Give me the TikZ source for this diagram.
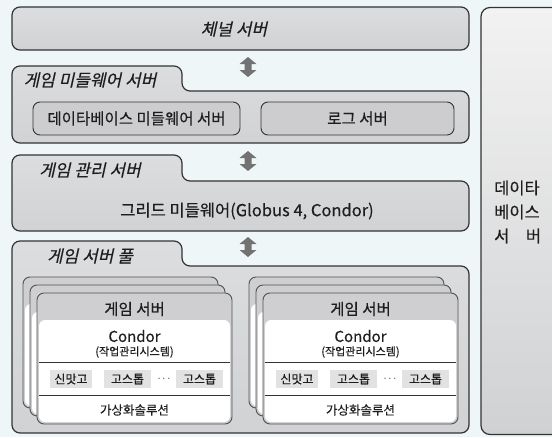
\documentclass[tikz,border=0pt]{standalone}
\usepackage{fontspec}
\setmainfont{Noto Sans CJK KR}[FakeBold=0.35]
\newfontfamily\krit[FakeSlant=0.22,FakeBold=0.35]{Noto Sans CJK KR}
\definecolor{bg}{HTML}{EEF6F8}
\definecolor{boxfill}{HTML}{D1D2D4}
\definecolor{boxlight}{HTML}{DCDDDF}
\definecolor{edgec}{HTML}{333333}
\definecolor{innerfill}{HTML}{CDCDCF}
\definecolor{cardgray}{HTML}{CFCFD1}
\definecolor{chipc}{HTML}{E2E2E2}
\definecolor{arrowc}{HTML}{727272}
\definecolor{txt}{HTML}{1E1E1E}
\definecolor{dbtop}{HTML}{F2F2F2}
\definecolor{dbbot}{HTML}{D0D1D3}
\tikzset{
  mainpath/.style={draw=edgec, line width=1.2pt, top color=boxlight, bottom color=boxfill, rounded corners=8pt},
  innerbox/.style={draw=edgec, line width=0.9pt, fill=innerfill, rounded corners=7pt, inner sep=0pt, text=txt, font=\fontsize{15.5}{16}\selectfont},
  tablabel/.style={text=txt, font=\krit\fontsize{17}{18}\selectfont, inner sep=0pt},
  plain/.style={text=txt, inner sep=0pt},
  chipbox/.style={fill=chipc, inner sep=0pt, minimum height=18pt, text=txt, font=\fontsize{12}{13}\selectfont},
  divider/.style={draw=edgec, line width=0.8pt},
  cardframe/.style={draw=edgec!85, line width=0.9pt, fill=cardgray, rounded corners=7pt},
  blockarrow/.style={fill=arrowc},
}
\newcommand\tabpanel[4]{%
  \draw[mainpath] (12,#3) -- (12,#1) -- (182,#1) -- (182,#2) -- (469,#2) -- (469,#3) -- cycle;
  \coordinate (#4) at (240.5,#2);
}
\newcommand\dblarrow[3]{%
  \node[inner sep=0pt, minimum size=0pt] (#3) at (#1,#2) {};
  \fill[blockarrow] ([shift={(0,-10)}]#3.center) -- ++(8.5,7) -- ++(-5,0) -- ++(0,6) -- ++(5,0)
     -- ++(-8.5,7) -- ++(-8.5,-7) -- ++(5,0) -- ++(0,-6) -- ++(-5,0) -- cycle;
}
\newcommand\cardshape[2]{%
  \begin{scope}[shift={(#1,#2)}]
    \draw[cardframe] (0,0) rectangle (195,131);
    \fill[white, rounded corners=6pt] (2,27) rectangle (193,129);
  \end{scope}
}
\newcommand\cardcontent[3]{%
  \begin{scope}[shift={(#1,#2)}]
    \draw[cardframe] (0,0) rectangle (195,131);
    \fill[white, rounded corners=6pt] (2,27) rectangle (193,129);
    \node[plain, font=\fontsize{15.5}{16}\selectfont] (#3title) at (97.5,16) {게임 서버};
    \node[plain, font=\fontsize{15}{16}\selectfont] (#3condor) at (97.5,43) {Condor};
    \node[plain, font=\fontsize{11}{12}\selectfont] (#3sub) at (97.5,59) {(작업관리시스템)};
    \draw[divider] (2,69) -- (193,69);
    \node[chipbox, minimum width=42pt] (#3chipa) at (34,86) {신맛고};
    \node[chipbox, minimum width=47pt] (#3chipb) at (90.5,86) {고스톱};
    \node[plain, font=\fontsize{11}{11}\selectfont] (#3dots) at (127,86) {$\cdots$};
    \node[chipbox, minimum width=47pt] (#3chipc) at (162.5,86) {고스톱};
    \draw[divider] (2,102) -- (193,102);
    \node[plain, font=\fontsize{12.5}{13}\selectfont] (#3virt) at (97.5,117) {가상화솔루션};
  \end{scope}
}
\begin{document}
\begin{tikzpicture}[x=1pt, y=-1pt]
\fill[bg] (0,0) rectangle (552,437);
\useasboundingbox (0,0) rectangle (552,437);
\clip (0,0) rectangle (552,437);

% database server (right, clipped)
\node[draw=edgec, line width=1.2pt, top color=dbtop, bottom color=dbbot, rounded corners=9pt,
      minimum width=90pt, minimum height=427pt, inner sep=0pt] (dbbox) at (526,221) {};
\node[plain, anchor=west, align=left, font=\fontsize{16.5}{24}\selectfont] (dbtext) at (494,212)
  {데이타\\베이스\\서\hspace{1em}버};

% channel server
\node[mainpath, minimum width=457pt, minimum height=43pt, inner sep=0pt] (chan) at (240.5,28.5) {};
\node[tablabel] (chanlabel) at (234,29) {체널 서버};

% middleware server
\tabpanel{66}{91}{143}{mwtop}
\node[tablabel] (mwlabel) at (90,80) {게임 미들웨어 서버};
\node[innerbox, minimum width=207pt, minimum height=33pt] (dbmw) at (136.5,118.5) {데이타베이스 미들웨어 서버};
\node[innerbox, minimum width=193pt, minimum height=33pt] (logsrv) at (357.5,118.5) {로그 서버};

% management server
\tabpanel{155}{181}{231}{mgtop}
\node[tablabel] (mglabel) at (90,170) {게임 관리 서버};
\node[plain, font=\fontsize{16.5}{17}\selectfont] (grid) at (247,211) {그리드 미들웨어(Globus 4, Condor)};

% game server pool
\tabpanel{241}{266}{433}{pooltop}
\node[tablabel] (poollabel) at (90,256) {게임 서버 풀};

\cardshape{23}{277}
\cardshape{30}{285}
\cardcontent{37}{293}{L}
\cardshape{249}{277}
\cardshape{256}{285}
\cardcontent{263}{293}{R}

% arrows
\dblarrow{248}{67}{arrA}
\dblarrow{248}{161}{arrB}
\dblarrow{248}{247}{arrC}
\end{tikzpicture}
\end{document}
